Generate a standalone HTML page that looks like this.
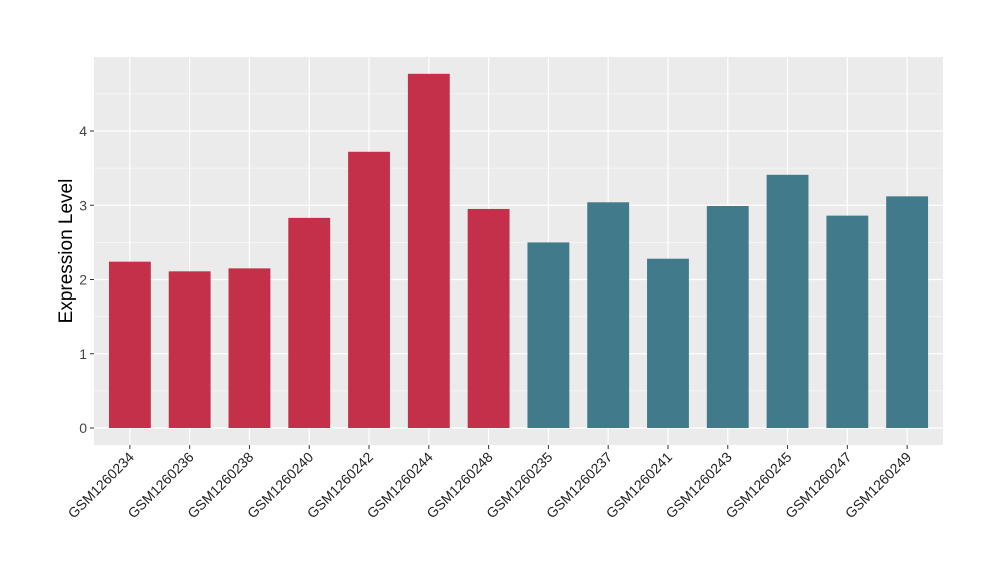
<!DOCTYPE html>
<html><head><meta charset="utf-8"><style>
body{margin:0;background:#fff;}
svg text{font-family:"Liberation Sans",Arial,sans-serif;}
</style></head><body>
<svg id="chart" width="1000" height="580" xmlns="http://www.w3.org/2000/svg">
<rect x="94" y="57" width="849" height="388" fill="#EBEBEB"/>
<g id="grid"></g><g id="bars"></g><g id="yticks"></g><g id="xticks"></g>
<text transform="translate(72,251) rotate(-90)" text-anchor="middle" font-size="19" fill="#000">Expression Level</text>
</svg>
<script>
const categories=["GSM1260234","GSM1260236","GSM1260238","GSM1260240","GSM1260242","GSM1260244","GSM1260248","GSM1260235","GSM1260237","GSM1260241","GSM1260243","GSM1260245","GSM1260247","GSM1260249"];
const values=[2.24,2.11,2.15,2.83,3.72,4.77,2.95,2.50,3.04,2.28,2.99,3.41,2.86,3.12];
const groups=["A","A","A","A","A","A","A","B","B","B","B","B","B","B"];
const yTicks=[0,1,2,3,4];
const colors={A:"#C43049",B:"#417A8B"};
const NS="http://www.w3.org/2000/svg";
const px0=94,px1=943,y0=428,pxPerUnit=74.25;
const step=(px1-px0)/(categories.length-1+1.2);
const xs=i=>px0+step*(0.6+i);
const ys=v=>y0-v*pxPerUnit;
const grid=document.getElementById('grid');
function mk(tag,attrs,parent){const e=document.createElementNS(NS,tag);for(const k in attrs)e.setAttribute(k,attrs[k]);parent.appendChild(e);return e;}
for(let v=-0.5;v<=5;v+=0.5){const y=ys(v);if(y<57||y>445)continue;
 const l=mk('line',{x1:px0,x2:px1,y1:y,y2:y,stroke:'#fff','stroke-width':(v%1===0)?1.2:0.6},grid);
 
 }
categories.forEach((c,i)=>{const l=mk('line',{x1:xs(i),x2:xs(i),y1:57,y2:445,stroke:'#fff','stroke-width':1.2},grid);
 
 });
const bars=document.getElementById('bars');const bw=step*0.7;
values.forEach((v,i)=>{const r=mk('rect',{x:xs(i)-bw/2,y:ys(v),width:bw,height:y0-ys(v),fill:colors[groups[i]]},bars);
 
 });
const yt=document.getElementById('yticks');
yTicks.forEach(t=>{const l=mk('line',{x1:90,x2:94,y1:ys(t),y2:ys(t),stroke:'#333'},yt);
 
 
 const tx=mk('text',{x:87,y:ys(t)+5,'text-anchor':'end','font-size':14,fill:'#444'},yt);tx.textContent=t;
 
 });
const xt=document.getElementById('xticks');
categories.forEach((c,i)=>{const x=xs(i);const l=mk('line',{x1:x,x2:x,y1:445,y2:449,stroke:'#333'},xt);
 
 
 const tx=mk('text',{transform:`translate(${x+5},${458}) rotate(-45)`,'text-anchor':'end','font-size':14,fill:'#222'},xt);tx.textContent=c;
 
 });
</script>
</body></html>
